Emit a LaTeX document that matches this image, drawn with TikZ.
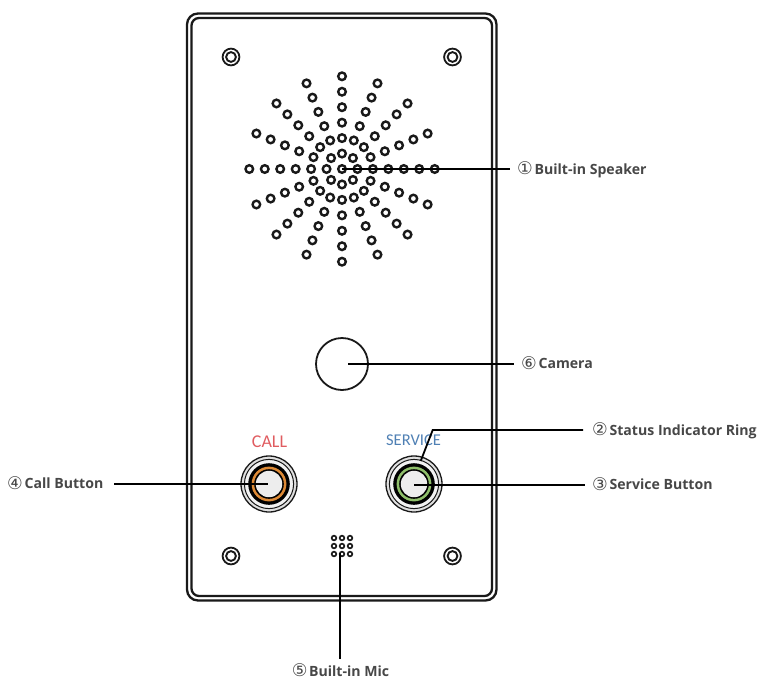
\documentclass[tikz,border=0pt]{standalone}
\usepackage{fontspec}
\usetikzlibrary{calc}
\setmainfont{Open Sans}
\newfontfamily\labfont{Open Sans}
\newfontfamily\numfont{DejaVu Sans}
\newfontfamily\btnfont{Carlito}
\tikzset{
  x=1pt,y=-1pt,
  leader/.style={draw=black,line width=1.8pt},
  lab/.style={inner sep=0pt,anchor=west,text=black!72,font=\labfont\bfseries\fontsize{14.1}{16}\selectfont},
  panel/.style={draw=black!90,line width=2.3pt},
  hole/.style={draw=black!90,line width=2.4pt,fill=white},
  btnlabel/.style={inner sep=0pt},
}
\newcommand{\numc}[1]{{\numfont\mdseries\fontsize{17.5}{18}\selectfont\raisebox{-.4pt}{#1}}\hspace{-2pt}}
\newcommand{\screw}[2]{%
  \draw[black!90,line width=1.8pt,fill=white] (#1,#2) circle[radius=8.4];
  \draw[black!90,line width=1.9pt,fill=white] (#1,#2) circle[radius=4.9];}
\newcommand{\pushbtn}[4]{%
  \node[circle,inner sep=0pt,minimum size=56pt,draw=black!90,line width=1.3pt,fill=black!12] (#4) at (#1,#2) {};
  \draw[black!90,line width=1pt,fill=black!5] (#1,#2) circle[radius=24.6];
  \fill[black] (#1,#2) circle[radius=20.8];
  \fill[#3] (#1,#2) circle[radius=17.4];
  \fill[black] (#1,#2) circle[radius=14.8];
  \fill[black!7] (#1,#2) circle[radius=13.2];}
\begin{document}
\begin{tikzpicture}
\useasboundingbox (0,0) rectangle (757,680);
\definecolor{callring}{HTML}{DE8A36}
\definecolor{servring}{HTML}{8FBF6A}
\definecolor{callred}{HTML}{E05C60}
\definecolor{servblue}{HTML}{4F80B4}
% panel
\draw[panel,rounded corners=11] (187,13.5) rectangle (496.5,600.5);
\draw[panel,rounded corners=7.5] (191.5,18) rectangle (492,596);
% screws
\screw{231}{57}\screw{452.5}{57}\screw{231}{556}\screw{452.5}{556}
% speaker
\coordinate (spk) at (342,169);
\foreach \a in {0,45,...,315}
  \foreach \k in {1,...,6}
    \draw[hole] ($(spk)+(\a:\k*15.45)$) circle[radius=3.8];
\foreach \a in {22.5,67.5,...,337.5}
  \foreach \k in {2,...,6}
    \draw[hole] ($(spk)+(\a:\k*15.45)$) circle[radius=3.8];
\draw[hole] (spk) circle[radius=3.8];
% camera
\node[circle,inner sep=0pt,minimum size=52pt,draw=black!90,line width=1.8pt,fill=white] (cam) at (342,364) {};
\coordinate (camc) at (348,364);
% buttons
\pushbtn{269}{484}{callring}{callbtn}
\pushbtn{414}{484}{servring}{servbtn}
\node[btnlabel,text=callred,font=\btnfont\fontsize{18}{18}\selectfont] (calltxt) at (269.5,442) {CALL};
\node[btnlabel,text=servblue,font=\btnfont\fontsize{16.5}{18}\selectfont] (servtxt) at (413.5,440) {SERVICE};
% mic
\foreach \i/\x in {1/334,2/342,3/350}
  \foreach \j/\y in {1/538,2/546,3/554}
    \draw[black!90,line width=1.7pt,fill=white] (\x,\y) circle[radius=2.3];
% labels
\node[lab] (l1) at (517,169.5) {\numc{①} Built-in Speaker};
\node[lab] (l2) at (592,431) {\numc{②} Status Indicator Ring};
\node[lab] (l3) at (592,484) {\numc{③} Service Button};
\node[lab] (l4) at (7,483) {\numc{④} Call Button};
\node[lab,anchor=center] (l5) at (340.5,670.5) {\numc{⑤} Built-in Mic};
\node[lab] (l6) at (521,363) {\numc{⑥} Camera};
% leaders
\coordinate (e1) at (510,169);
\coordinate (e2) at (583,430);
\coordinate (b2) at (432.7,430);
\coordinate (s2) at (420.7,461);
\coordinate (e3) at (585,485);
\coordinate (s3) at (414,485);
\coordinate (e4) at (114,484);
\coordinate (s4) at (268,484);
\coordinate (e5) at (340,659);
\coordinate (s5) at (340,553);
\coordinate (e6) at (514,364);
\draw[leader] (spk) -- (e1);
\draw[leader] (s2) -- (b2) -- (e2);
\draw[leader] (s3) -- (e3);
\draw[leader] (e4) -- (s4);
\draw[leader] (s5) -- (e5);
\draw[leader] (camc) -- (e6);
\end{tikzpicture}
\end{document}
